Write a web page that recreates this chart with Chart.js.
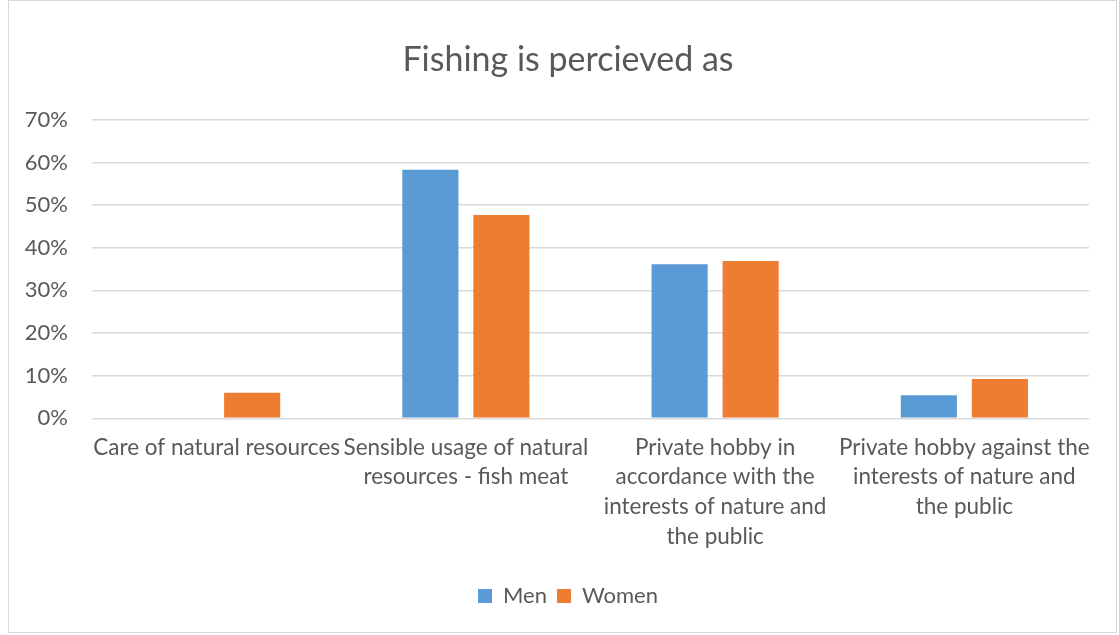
<!DOCTYPE html>
<html>
<head>
<meta charset="utf-8">
<script src="https://cdn.jsdelivr.net/npm/chart.js@4/dist/chart.umd.min.js"></script>
<style>
  html, body { margin: 0; padding: 0; background: #ffffff; }
  #wrap { position: relative; width: 1119px; height: 635px; }
</style>
</head>
<body>
<div id="wrap"><canvas id="c" width="1119" height="635"></canvas></div>
<script>
const chartTitle = "Fishing is percieved as";
const categories = [
  ["Care of natural resources"],
  ["Sensible usage of natural", "resources - fish meat"],
  ["Private hobby in", "accordance with the", "interests of nature and", "the public"],
  ["Private hobby against the", "interests of nature and", "the public"]
];
const seriesNames = ["Men", "Women"];
const menValues = [0, 58.3, 36.1, 5.4];
const womenValues = [6.0, 47.7, 36.9, 9.2];
const yTickMax = 70;
const yTickStep = 10;

const FONT = "Lato, 'Open Sans', sans-serif";
const TEXT = "#595959";

const frame = {
  id: "frame",
  beforeDraw(chart) {
    const ctx = chart.ctx;
    ctx.save();
    ctx.fillStyle = "#ffffff";
    ctx.fillRect(0, 0, chart.width, chart.height);
    ctx.strokeStyle = "#d9d9d9";
    ctx.lineWidth = 1;
    ctx.strokeRect(8.5, 0.5, 1108, 632);
    ctx.restore();
  }
};

new Chart(document.getElementById("c"), {
  type: "bar",
  data: {
    labels: categories,
    datasets: [
      { label: seriesNames[0], data: menValues, backgroundColor: "#5B9BD5",
        categoryPercentage: 0.57, barPercentage: 0.79 },
      { label: seriesNames[1], data: womenValues, backgroundColor: "#ED7D31",
        categoryPercentage: 0.57, barPercentage: 0.79 }
    ]
  },
  options: {
    responsive: false,
    animation: false,
    devicePixelRatio: 1,
    layout: { padding: { left: 25, right: 8, top: 0, bottom: 18 } },
    plugins: {
      title: {
        display: true, text: chartTitle, color: TEXT,
        font: { family: FONT, size: 34, weight: "normal" },
        padding: { top: 40, bottom: 39 }
      },
      legend: {
        position: "bottom",
        labels: {
          color: TEXT, font: { family: FONT, size: 22 },
          boxWidth: 14, boxHeight: 14, padding: 10
        }
      },
      tooltip: { enabled: false }
    },
    scales: {
      x: {
        grid: { display: false, drawTicks: false },
        border: { display: false },
        afterFit(scale) { scale.height = scale.height + 9; },
        ticks: {
          color: TEXT, font: { family: FONT, size: 22.5, lineHeight: 1.33 },
          maxRotation: 0, minRotation: 0, autoSkip: false, padding: 14
        }
      },
      y: {
        min: 0, max: yTickMax,
        afterFit(scale) { scale.width = 67; },
        grid: { color: "#d9d9d9", lineWidth: 1.5, drawTicks: false },
        border: { display: false },
        ticks: {
          stepSize: yTickStep, color: TEXT,
          font: { family: FONT, size: 22 }, padding: 24,
          callback: v => v + "%"
        }
      },
      yRightSpace: {
        position: "right",
        display: true,
        afterFit(scale) { scale.width = 22; },
        grid: { display: false, drawTicks: false },
        border: { display: false },
        ticks: { display: false }
      }
    }
  },
  plugins: [frame]
});
</script>
</body>
</html>
